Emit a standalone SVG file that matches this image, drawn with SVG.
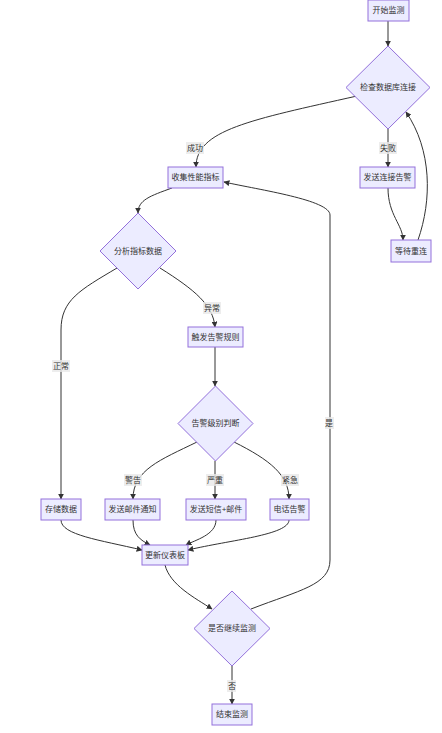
<svg xmlns="http://www.w3.org/2000/svg" width="442" height="733" viewBox="0 0 442 733">
<defs>
<marker id="ah" viewBox="0 0 10 10" refX="9" refY="5" markerWidth="6" markerHeight="6" orient="auto-start-reverse" markerUnits="userSpaceOnUse">
<path d="M0,0 L10,5 L0,10 z" fill="#333"/>
</marker>
<style>
.n{fill:#ECECFF;stroke:#9370DB;stroke-width:1}
.t{font-family:"Liberation Sans","Noto Sans CJK SC",sans-serif;font-size:8px;fill:#333;text-anchor:middle;dominant-baseline:central}
.e{fill:none;stroke:#333;stroke-width:1;marker-end:url(#ah)}
.lb{fill:#E8E8E8;fill-opacity:0.8}
</style>
</defs>
<rect width="442" height="733" fill="#fff"/>
<g id="edges">
<path class="e" d="M388,21 L388,46"/>
<path class="e" d="M357,96 C250,120 196,130 196,167"/>
<path class="e" d="M388,129 L388,167"/>
<path class="e" d="M388,188 C388,215 403,225 403,240"/>
<path class="e" d="M418,240 C432,200 432,150 406,112"/>
<path class="e" d="M172,188 C150,196 138,200 138,213"/>
<path class="e" d="M160,268 C195,290 213,305 215,327"/>
<path class="e" d="M117,268 C80,290 61,300 61,330 L61,499"/>
<path class="e" d="M215,347 L215,386"/>
<path class="e" d="M197,442 C160,460 133,470 133,499"/>
<path class="e" d="M215,461 L215,499"/>
<path class="e" d="M234,442 C270,460 289,475 289,499"/>
<path class="e" d="M61,520 C61,535 100,540 142,550"/>
<path class="e" d="M133,520 C133,535 140,540 150,545"/>
<path class="e" d="M216,520 C216,535 195,540 186,545"/>
<path class="e" d="M289,520 C289,535 230,540 188,550"/>
<path class="e" d="M165,565 C170,585 195,598 212,609"/>
<path class="e" d="M251,609 C300,590 330,585 330,560 L330,215 C330,200 260,190 224,182"/>
<path class="e" d="M232,666 L232,704"/>
</g>
<g id="labels">
<rect class="lb" x="379" y="142" width="18" height="12"/><text class="t" x="388" y="148">失败</text>
<rect class="lb" x="186" y="142" width="18" height="12"/><text class="t" x="195" y="148">成功</text>
<rect class="lb" x="203" y="302" width="18" height="12"/><text class="t" x="212" y="308">异常</text>
<rect class="lb" x="52" y="360" width="18" height="12"/><text class="t" x="61" y="366">正常</text>
<rect class="lb" x="124" y="474" width="18" height="12"/><text class="t" x="133" y="480">警告</text>
<rect class="lb" x="206" y="474" width="18" height="12"/><text class="t" x="215" y="480">严重</text>
<rect class="lb" x="281" y="474" width="18" height="12"/><text class="t" x="290" y="480">紧急</text>
<rect class="lb" x="325" y="417" width="9" height="12"/><text class="t" x="329" y="423">是</text>
<rect class="lb" x="227" y="680" width="9" height="12"/><text class="t" x="232" y="686">否</text>
</g>
<g id="n_start"><rect class="n" x="368" y="0" width="41" height="21"/><text class="t" x="388.5" y="10.5">开始监测</text></g>
<g id="n_check"><polygon class="n" points="388,46 430,87.5 388,129 346,87.5"/><text class="t" x="388" y="87.5">检查数据库连接</text></g>
<g id="n_alertconn"><rect class="n" x="360" y="167" width="55" height="21"/><text class="t" x="387.5" y="177.5">发送连接告警</text></g>
<g id="n_wait"><rect class="n" x="391" y="240" width="40" height="22"/><text class="t" x="411" y="251">等待重连</text></g>
<g id="n_collect"><rect class="n" x="168" y="167" width="55" height="21"/><text class="t" x="195.5" y="177.5">收集性能指标</text></g>
<g id="n_analyze"><polygon class="n" points="138,213 176,251 138,289 100,251"/><text class="t" x="138" y="251">分析指标数据</text></g>
<g id="n_trigger"><rect class="n" x="188" y="327" width="55" height="20"/><text class="t" x="215.5" y="337">触发告警规则</text></g>
<g id="n_level"><polygon class="n" points="215.5,386 253,423.5 215.5,461 178,423.5"/><text class="t" x="215.5" y="423.5">告警级别判断</text></g>
<g id="n_store"><rect class="n" x="41" y="499" width="40" height="21"/><text class="t" x="61" y="509.5">存储数据</text></g>
<g id="n_mail"><rect class="n" x="105" y="499" width="55" height="21"/><text class="t" x="132.5" y="509.5">发送邮件通知</text></g>
<g id="n_sms"><rect class="n" x="186" y="499" width="60" height="21"/><text class="t" x="216" y="509.5">发送短信+邮件</text></g>
<g id="n_phone"><rect class="n" x="270" y="499" width="39" height="21"/><text class="t" x="289.5" y="509.5">电话告警</text></g>
<g id="n_dash"><rect class="n" x="142" y="545" width="46" height="20"/><text class="t" x="165" y="555">更新仪表板</text></g>
<g id="n_cont"><polygon class="n" points="232,591 270,628.5 232,666 194,628.5"/><text class="t" x="232" y="628.5">是否继续监测</text></g>
<g id="n_end"><rect class="n" x="212" y="704" width="40" height="21"/><text class="t" x="232" y="714.5">结束监测</text></g>
</svg>
